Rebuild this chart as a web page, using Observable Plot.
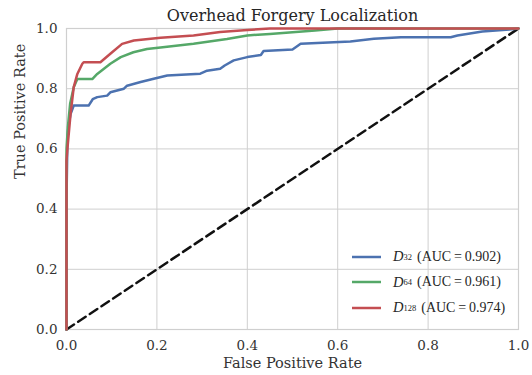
<!DOCTYPE html>
<html>
<head>
<meta charset="utf-8">
<script src="https://cdn.jsdelivr.net/npm/d3@7"></script>
<script src="https://cdn.jsdelivr.net/npm/@observablehq/plot@0.6"></script>
<style>
  html, body { margin: 0; padding: 0; background: #fff; }
  #wrap { position: relative; width: 532px; height: 375px; }
  #legend { position: absolute; left: 351px; top: 244px; font-family: "Liberation Serif", serif; font-size: 14px; color: #262626; }
  #legend .row { height: 25.5px; display: flex; align-items: center; }
  #legend svg { margin-right: 11px; }
  #legend i { font-size: 14.5px; }
  #legend sub { font-size: 8.5px; vertical-align: -4px; margin-right: 5px; }
</style>
</head>
<body>
<div id="wrap"></div>
<script>
const titleText = "Overhead Forgery Localization";
const xLabel = "False Positive Rate";
const yLabel = "True Positive Rate";
const ticks = [0, 0.2, 0.4, 0.6, 0.8, 1.0];

const seriesNames = ["D32", "D64", "D128"];
const seriesSubs = ["32", "64", "128"];
const seriesAUC = ["0.902", "0.961", "0.974"];
const seriesColors = ["#4C72B0", "#55A868", "#C44E52"];

const fpr32 = [0, 0, 0.002, 0.004, 0.009, 0.016, 0.049, 0.058, 0.068, 0.09, 0.097, 0.127, 0.134, 0.164, 0.193, 0.223, 0.296, 0.311, 0.34, 0.35, 0.37, 0.40, 0.43, 0.436, 0.5, 0.518, 0.628, 0.68, 0.74, 0.85, 0.865, 0.92, 0.98, 1.0];
const tpr32 = [0, 0.43, 0.628, 0.672, 0.716, 0.744, 0.744, 0.765, 0.772, 0.777, 0.788, 0.80, 0.81, 0.822, 0.833, 0.844, 0.85, 0.86, 0.866, 0.877, 0.894, 0.905, 0.912, 0.925, 0.93, 0.949, 0.957, 0.966, 0.971, 0.971, 0.977, 0.99, 0.997, 1.0];

const fpr64 = [0, 0, 0.003, 0.008, 0.016, 0.024, 0.057, 0.068, 0.097, 0.12, 0.148, 0.178, 0.208, 0.281, 0.355, 0.40, 0.45, 0.55, 0.6, 1.0];
const tpr64 = [0, 0.6, 0.672, 0.75, 0.805, 0.832, 0.832, 0.849, 0.883, 0.905, 0.921, 0.932, 0.937, 0.949, 0.965, 0.977, 0.982, 0.993, 1.0, 1.0];

const fpr128 = [0, 0, 0.002, 0.009, 0.016, 0.024, 0.035, 0.038, 0.075, 0.097, 0.123, 0.149, 0.208, 0.281, 0.34, 0.40, 0.45, 1.0];
const tpr128 = [0, 0.56, 0.6, 0.716, 0.805, 0.849, 0.883, 0.888, 0.888, 0.916, 0.949, 0.96, 0.969, 0.977, 0.988, 0.995, 1.0, 1.0];

const diag = [0, 1];

const curves = [[fpr32, tpr32], [fpr64, tpr64], [fpr128, tpr128]];
const rows = [];
curves.forEach(([fx, ty], k) => fx.forEach((v, i) => rows.push({series: seriesNames[k], fpr: v, tpr: ty[i]})));

const font = "'DejaVu Serif', serif";

const chart = Plot.plot({
  width: 532,
  height: 375,
  marginLeft: 66,
  marginRight: 14,
  marginTop: 28,
  marginBottom: 46,
  style: { fontFamily: font, fontSize: "13px", color: "#333", background: "#fff" },
  x: { domain: [0, 1] },
  y: { domain: [0, 1] },
  color: { domain: seriesNames, range: seriesColors },
  marks: [
    Plot.gridX(ticks, { stroke: "#cfcfcf", strokeOpacity: 1, strokeWidth: 1 }),
    Plot.gridY(ticks, { stroke: "#cfcfcf", strokeOpacity: 1, strokeWidth: 1 }),
    Plot.frame({ stroke: "#cfcfcf", strokeWidth: 1.2 }),
    Plot.axisX(ticks, { tickSize: 0, tickPadding: 11, tickFormat: d3.format(".1f"), label: null, fontSize: 13.5 }),
    Plot.axisY(ticks, { tickSize: 0, tickPadding: 9, tickFormat: d3.format(".1f"), label: null, fontSize: 13.5 }),
    Plot.line(diag, { x: d => d, y: d => d, stroke: "#111", strokeWidth: 2.5, strokeDasharray: "9,5" }),
    Plot.line(rows, { x: "fpr", y: "tpr", stroke: "series", z: "series", strokeWidth: 2.5 }),
    Plot.text([titleText], { frameAnchor: "top", dy: -19, fontSize: 16, fill: "#262626", text: d => d }),
    Plot.text([xLabel], { frameAnchor: "bottom", dy: 38, fontSize: 14.5, fill: "#333", text: d => d }),
    Plot.text([yLabel], { frameAnchor: "left", dx: -46, rotate: -90, fontSize: 14.5, fill: "#333", text: d => d })
  ]
});

const wrap = document.getElementById("wrap");
wrap.appendChild(chart);

const legend = document.createElement("div");
legend.id = "legend";
seriesNames.forEach((name, k) => {
  const row = document.createElement("div");
  row.className = "row";
  row.innerHTML = `<svg width="31" height="6"><line x1="1" y1="3" x2="30" y2="3" stroke="${seriesColors[k]}" stroke-width="2.5"/></svg><i>D</i><sub>${seriesSubs[k]}</sub><span>(AUC&thinsp;=&thinsp;${seriesAUC[k]})</span>`;
  legend.appendChild(row);
});
wrap.appendChild(legend);
</script>
</body>
</html>
